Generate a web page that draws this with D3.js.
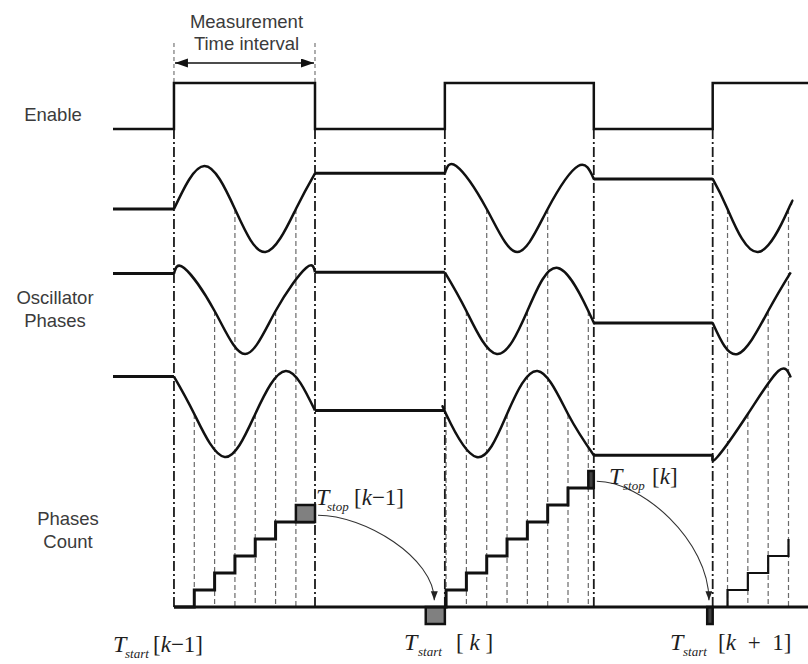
<!DOCTYPE html>
<html>
<head>
<meta charset="utf-8">
<script src="https://cdn.jsdelivr.net/npm/d3@7"></script>
<style>
  body { margin: 0; background: #fff; }
  svg { display: block; }
</style>
</head>
<body>
<svg id="chart" width="808" height="664"></svg>
<script>
// Zeitachse in Phasenschritten (1 Schritt = 1/6 Oszillatorperiode)
const rowLabels = [["Enable"], ["Oscillator", "Phases"], ["Phases", "Count"]];
const measureLabel = ["Measurement", "Time interval"];

const tStart = -3;
const tEnd = 31.2;
const enableLevels = [[tStart, 0], [0, 1], [6.94, 0], [13.33, 1], [20.66, 0], [26.51, 1], [tEnd, 1]];
const enableEdges = [0, 6.94, 13.33, 20.66, 26.51];

// aktive Messfenster [start, stop]; das letzte ist am Bildrand abgeschnitten
const intervals = [[0, 6.94], [13.33, 20.66], [26.51, 30.35]];

const phaseA = [
  [[0, 0], [1.5, 1], [3, 0], [4.5, -1], [6, 0], [6.94, 0.83]],
  [[13.33, 0.83], [13.89, 1], [15.39, 0], [16.89, -1], [18.39, 0], [19.89, 1], [20.66, 0.7]],
  [[26.51, 0.7], [27.24, 0], [28.74, -1], [30.24, 0], [30.35, 0.1]]
];
const phaseB = [
  [[0, 0.87], [0.5, 1], [2, 0], [3.5, -1], [5, 0], [6.5, 1], [6.94, 0.9]],
  [[13.33, 0.9], [14.39, 0], [15.89, -1], [17.39, 0], [18.89, 1], [20.39, 0], [20.66, -0.28]],
  [[26.51, -0.28], [27.74, -1], [29.24, 0], [30.35, 0.9]]
];
const phaseC = [
  [[0, 0.87], [1, 0], [2.5, -1], [4, 0], [5.5, 1], [6.94, 0.08]],
  [[13.33, 0.08], [13.39, 0], [14.89, -1], [16.39, 0], [17.89, 1], [19.39, 0], [20.66, -0.96]],
  [[26.51, -0.96], [26.74, -1], [28.24, 0], [29.74, 1], [30.35, 0.85]]
];
const phases = [phaseA, phaseB, phaseC];

const timeLabels = [
  { sub: "start", idx: ["[", "k", "\u22121]"] },
  { sub: "start", idx: ["[ ", "k", " ]"] },
  { sub: "start", idx: ["[", "k", " + 1]"] },
  { sub: "stop", idx: ["[", "k", "\u22121]"] },
  { sub: "stop", idx: ["[", "k", "]"] }
];

const svg = d3.select("#chart");
const sans = "'Liberation Sans', Arial, sans-serif";
const serif = "'Liberation Serif', 'Times New Roman', serif";
const ink = "#111";

const x = d3.scaleLinear().domain([tStart, tEnd]).range([113, 808]);
const yEnable = d3.scaleLinear().domain([0, 1]).range([129, 83]);
const rowMid = [209, 311, 414];
const yPhase = rowMid.map(m => d3.scaleLinear().domain([-1, 1]).range([m + 43, m - 43]));
const yCount = d3.scaleLinear().domain([0, 8]).range([607, 471]);

const defs = svg.append("defs");
defs.append("marker")
  .attr("id", "bigHead")
  .attr("markerUnits", "userSpaceOnUse")
  .attr("markerWidth", 14).attr("markerHeight", 10)
  .attr("refX", 13).attr("refY", 4.5)
  .attr("orient", "auto-start-reverse")
  .append("path").attr("d", "M0,0 L13,4.5 L0,9 z").attr("fill", ink);
defs.append("marker")
  .attr("id", "smallHead")
  .attr("markerUnits", "userSpaceOnUse")
  .attr("markerWidth", 10).attr("markerHeight", 8)
  .attr("refX", 9).attr("refY", 3.5)
  .attr("orient", "auto")
  .append("path").attr("d", "M0,0 L9,3.5 L0,7 z").attr("fill", "#222");

// Nulldurchgaenge aus den Phasendaten (Wert 0 innerhalb eines Fensters)
const crossings = [];
phases.forEach((segs, w) => {
  segs.forEach((pts, i) => {
    pts.forEach(([t, v]) => {
      if (v === 0 && t > intervals[i][0]) crossings.push({ t, w, i });
    });
  });
});

// gestrichelte Linien an den Nulldurchgaengen
svg.append("g").selectAll("line")
  .data(crossings)
  .join("line")
    .attr("x1", d => x(d.t)).attr("x2", d => x(d.t))
    .attr("y1", d => yPhase[d.w](0)).attr("y2", yCount(0))
    .attr("stroke", "#6a6a6a")
    .attr("stroke-width", 1.2)
    .attr("stroke-dasharray", "5,3");

// Strich-Punkt-Linien an den Enable-Flanken
svg.append("g").selectAll("line")
  .data(enableEdges)
  .join("line")
    .attr("x1", d => x(d)).attr("x2", d => x(d))
    .attr("y1", yEnable(0)).attr("y2", yCount(0))
    .attr("stroke", "#1a1a1a")
    .attr("stroke-width", 1.8)
    .attr("stroke-dasharray", "10,3,2,3");

// Messintervall oben
const measure = enableEdges.slice(0, 2);
svg.append("g").selectAll("line")
  .data(measure)
  .join("line")
    .attr("x1", d => x(d)).attr("x2", d => x(d))
    .attr("y1", 43).attr("y2", yEnable(1))
    .attr("stroke", "#777")
    .attr("stroke-width", 1.2)
    .attr("stroke-dasharray", "4,3");
svg.append("line")
  .attr("x1", x(measure[0]) + 1).attr("x2", x(measure[1]) - 1)
  .attr("y1", 63).attr("y2", 63)
  .attr("stroke", ink).attr("stroke-width", 1.5)
  .attr("marker-start", "url(#bigHead)")
  .attr("marker-end", "url(#bigHead)");
svg.append("g").selectAll("text")
  .data(measureLabel)
  .join("text")
    .attr("x", (x(measure[0]) + x(measure[1])) / 2 + 2)
    .attr("y", (d, i) => 28 + i * 22)
    .attr("text-anchor", "middle")
    .attr("font-family", sans)
    .attr("font-size", 18.5)
    .attr("fill", "#3b3b3b")
    .text(d => d);

// Enable-Signal
svg.append("path")
  .attr("d", d3.line().x(d => x(d[0])).y(d => yEnable(d[1])).curve(d3.curveStepAfter)(enableLevels))
  .attr("fill", "none")
  .attr("stroke", ink)
  .attr("stroke-width", 2.5);

// Oszillatorphasen
phases.forEach((segs, w) => {
  const y = yPhase[w];
  const g = svg.append("g")
    .attr("fill", "none")
    .attr("stroke", ink)
    .attr("stroke-width", 2.5);
  const flats = [[[tStart, segs[0][0][1]], segs[0][0]]];
  for (let i = 1; i < segs.length; i++) {
    flats.push([segs[i - 1][segs[i - 1].length - 1], segs[i][0]]);
  }
  g.selectAll("path.flat")
    .data(flats)
    .join("path")
      .attr("class", "flat")
      .attr("stroke-width", 3)
      .attr("d", d3.line().x(d => x(d[0])).y(d => y(d[1])));
  g.selectAll("path.wave")
    .data(segs)
    .join("path")
      .attr("class", "wave")
      .attr("d", d3.line().x(d => x(d[0])).y(d => y(d[1])).curve(d3.curveNatural));
});

// Phasenzaehler (Treppe), Stop-/Start-Kaestchen
const boxFills = ["#808080", "#404040"];
const stair = svg.append("g");
const stops = [];
intervals.forEach(([a, b], i) => {
  const c = crossings.filter(d => d.i === i).map(d => d.t).sort((p, q) => p - q);
  const open = i === intervals.length - 1;
  const pts = [[a, 0]];
  const n = c.length;
  c.forEach((t, j) => {
    if (!open && j === n - 1) return;
    pts.push([t, j], [t, j + 1]);
  });
  if (!open) pts.push([b, n - 1]);
  stair.append("path")
    .attr("d", d3.line().x(d => x(d[0])).y(d => yCount(d[1]))(pts))
    .attr("fill", "none")
    .attr("stroke", ink)
    .attr("stroke-width", open ? 2.2 : 3);
  if (!open) stops.push({ t0: c[n - 1], t1: b, level: n - 1, i });
});

stops.forEach(s => {
  stair.append("rect")
    .attr("x", x(s.t0)).attr("y", yCount(s.level + 1))
    .attr("width", x(s.t1) - x(s.t0))
    .attr("height", yCount(s.level) - yCount(s.level + 1))
    .attr("fill", boxFills[s.i])
    .attr("stroke", ink).attr("stroke-width", 2.5);
  const next = intervals[s.i + 1][0];
  const w = s.t1 - s.t0;
  stair.append("rect")
    .attr("x", x(next - w)).attr("y", yCount(0))
    .attr("width", x(next) - x(next - w))
    .attr("height", yCount(-1) - yCount(0))
    .attr("fill", boxFills[s.i])
    .attr("stroke", ink).attr("stroke-width", 2.5);

  // gekruemmter Pfeil vom Stop- zum Start-Kaestchen
  const x0 = x(s.t1) + 3, y0 = yCount(s.level + 0.4);
  const x1 = x(next - w / 2) - 1, y1 = yCount(0.4);
  const p = d3.path();
  p.moveTo(x0, y0);
  p.bezierCurveTo(x0 + 0.4 * (x1 - x0), y0, x1, y0 + 0.5 * (y1 - y0), x1, y1);
  svg.append("path")
    .attr("d", p.toString())
    .attr("fill", "none")
    .attr("stroke", "#333")
    .attr("stroke-width", 1.1)
    .attr("marker-end", "url(#smallHead)");
});

// Grundlinie des Zaehlers
svg.append("line")
  .attr("x1", x(0)).attr("x2", x(tEnd))
  .attr("y1", yCount(0)).attr("y2", yCount(0))
  .attr("stroke", ink).attr("stroke-width", 3);

// Zeilenbeschriftung
const rowPos = [{ x: 53, y: 121 }, { x: 55, y: 304 }, { x: 68, y: 525 }];
rowLabels.forEach((lines, r) => {
  svg.append("g").selectAll("text")
    .data(lines)
    .join("text")
      .attr("x", rowPos[r].x)
      .attr("y", (d, i) => rowPos[r].y + i * 23)
      .attr("text-anchor", "middle")
      .attr("font-family", sans)
      .attr("font-size", 18.5)
      .attr("fill", "#3b3b3b")
      .text(d => d);
});

// T_start / T_stop Beschriftungen
const timePos = [
  { x: 113, subX: 125, idxX: 153, y: 652, ws: 0 },
  { x: 404, subX: 418, idxX: 456, y: 650, ws: 0 },
  { x: 670, subX: 683, idxX: 718, y: 650, ws: 6 },
  { x: 316, subX: 327, idxX: 354, y: 505, ws: 0 },
  { x: 609, subX: 623, idxX: 652, y: 484, ws: 0 }
];
timeLabels.forEach((lab, i) => {
  const pos = timePos[i];
  const g = svg.append("g").attr("font-family", serif).attr("fill", "#1e1e1e");
  g.append("text")
    .attr("x", pos.x).attr("y", pos.y)
    .attr("font-size", 24).attr("font-style", "italic")
    .text("T");
  g.append("text")
    .attr("x", pos.subX).attr("y", pos.y + 6)
    .attr("font-size", 13).attr("font-style", "italic")
    .text(lab.sub);
  const idx = g.append("text")
    .attr("x", pos.idxX).attr("y", pos.y)
    .attr("font-size", 23)
    .attr("word-spacing", pos.ws)
    .attr("xml:space", "preserve");
  lab.idx.forEach((part, j) => {
    idx.append("tspan")
      .attr("font-style", j === 1 ? "italic" : "normal")
      .text(part);
  });
});
</script>
</body>
</html>
